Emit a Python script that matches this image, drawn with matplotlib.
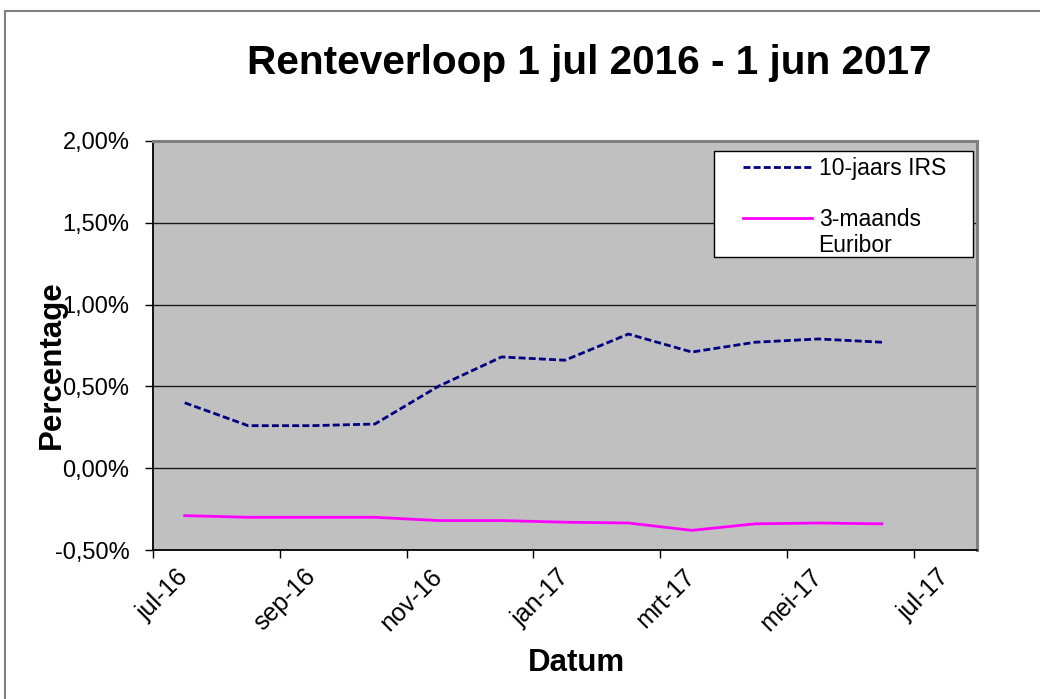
import matplotlib
matplotlib.use("Agg")
import matplotlib.pyplot as plt
from matplotlib.lines import Line2D
from matplotlib.patches import Rectangle

plt.rcParams['font.family'] = ['Liberation Sans', 'DejaVu Sans']
plt.rcParams['lines.scale_dashes'] = False

# ---- data ----
months = ['jul-16', 'aug-16', 'sep-16', 'okt-16', 'nov-16', 'dec-16',
          'jan-17', 'feb-17', 'mrt-17', 'apr-17', 'mei-17', 'jun-17']
irs_10y = [0.40, 0.26, 0.26, 0.27, 0.50, 0.68, 0.66, 0.82, 0.71, 0.77, 0.79, 0.77]
euribor_3m = [-0.29, -0.30, -0.30, -0.30, -0.32, -0.32, -0.33, -0.335, -0.38, -0.34, -0.335, -0.34]
x_tick_labels = ['jul-16', 'sep-16', 'nov-16', 'jan-17', 'mrt-17', 'mei-17', 'jul-17']
y_ticks = [-0.5, 0.0, 0.5, 1.0, 1.5, 2.0]
y_tick_labels = ['-0,50%', '0,00%', '0,50%', '1,00%', '1,50%', '2,00%']
series_labels = ['10-jaars IRS', '3-maands', 'Euribor']
title = 'Renteverloop 1 jul 2016 - 1 jun 2017'

W, H = 1040, 699
fig = plt.figure(figsize=(W / 100, H / 100), dpi=100)
fig.patch.set_facecolor('white')

L, R, T, B = 153, 977, 141, 550
ax = fig.add_axes([L / W, 1 - B / H, (R - L) / W, (B - T) / H])
ax.set_facecolor('#C0C0C0')

x = list(range(len(months)))
l1, = ax.plot(x, irs_10y, color='#000080', lw=2.0, dashes=[5, 2.3], zorder=2)
l2, = ax.plot(x, euribor_3m, color='#FF00FF', lw=2.0, zorder=2)

ax.set_xlim(-0.5, 12.5)
ax.set_ylim(-0.5, 2.0)

# y axis
ax.set_yticks(y_ticks)
ax.set_yticklabels(y_tick_labels)
ax.tick_params(axis='y', direction='out', length=6, width=1, pad=11, labelsize=17, color='black')
for yv in y_ticks[1:-1]:
    ax.axhline(yv, color='#1a1a1a', lw=1.0, zorder=1)

# x axis: labels at category centers, tick marks between
ax.set_xticks(list(range(0, 13, 2)))
ax.set_xticklabels(x_tick_labels, rotation=45, ha='right', va='center', rotation_mode='anchor')
ax.set_xticks([-0.5, 1.5, 3.5, 5.5, 7.5, 9.5, 11.5], minor=True)
ax.tick_params(axis='x', which='major', length=0, pad=16.5, labelsize=18)
ax.tick_params(axis='x', which='minor', direction='out', length=6, width=1, color='black')

for s in ['left', 'bottom']:
    ax.spines[s].set_color('black')
    ax.spines[s].set_linewidth(1.3)
for s in ['top', 'right']:
    ax.spines[s].set_color('#808080')
    ax.spines[s].set_linewidth(2.2)

# axis labels
ax.set_ylabel('Percentage', fontsize=22.5, fontweight='bold')
ax.yaxis.label.set(va='center', ha='center')
ax.yaxis.set_label_coords((52 - L) / (R - L), (B - 365) / (B - T))
ax.set_xlabel('Datum', fontsize=22.5, fontweight='bold')
ax.xaxis.label.set(va='center', ha='center')
ax.xaxis.set_label_coords((576 - L) / (R - L), (B - 663) / (B - T))

ax.set_title(title, fontsize=29.2, fontweight='bold', x=(589 - L) / (R - L),
             y=(B - 71) / (B - T), va='center')

# legend box
lx0, lx1, ly0, ly1 = 714, 973, 151, 257
ax.add_patch(Rectangle(((lx0 - L) / (R - L), (B - ly1) / (B - T)),
                       (lx1 - lx0) / (R - L), (ly1 - ly0) / (B - T),
                       transform=ax.transAxes, facecolor='white', edgecolor='black',
                       lw=1.0, zorder=4, clip_on=False))
blank1 = Line2D([], [], color='none')
blank2 = Line2D([], [], color='none')
leg = ax.legend([l1, blank1, l2, blank2],
                [series_labels[0], ' ', series_labels[1], series_labels[2]],
                loc='upper left', bbox_to_anchor=((743 - L) / (R - L), (B - 157) / (B - T)),
                frameon=False, fontsize=16.5, borderpad=0, borderaxespad=0,
                labelspacing=0.12, handlelength=3.0, handletextpad=0.3)
leg.set_zorder(5)

# outer chart frame
fig.add_artist(Line2D([5 / W, 5 / W], [0, 1 - 11 / H], color='#808080', lw=1.5))
fig.add_artist(Line2D([5 / W, 1], [1 - 11 / H, 1 - 11 / H], color='#808080', lw=1.5))

fig.savefig('out.png', dpi=100, facecolor='white')
